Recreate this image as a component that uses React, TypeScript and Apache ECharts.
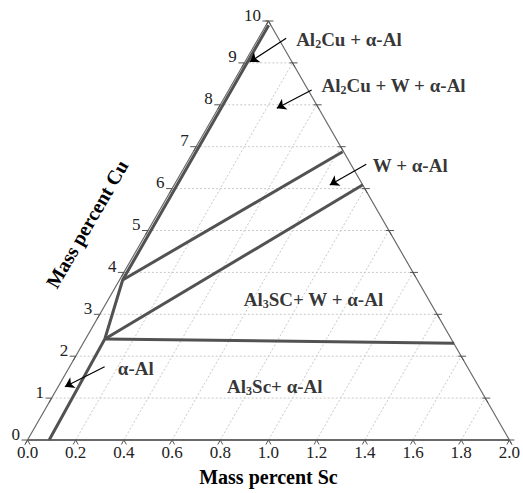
import React, { useEffect, useRef } from "react";
import * as echarts from "echarts";

// ---- axes (ternary-style frame: Sc along the base, Cu up to the apex) ----
const SC_MAX = 2;
const CU_MAX = 10;
const scTicks = [0, 0.2, 0.4, 0.6, 0.8, 1.0, 1.2, 1.4, 1.6, 1.8, 2.0];
const cuTicks = [0, 1, 2, 3, 4, 5, 6, 7, 8, 9, 10];

// ---- phase boundaries, points as [Sc, Cu] ----
const boundaryAlphaAl = [[0.09, 0], [0.08, 2.41], [0.013, 3.82], [0.011, 9.9]];
const boundaryWUpper = [[0.013, 3.82], [0.62, 6.88]];
const boundaryWLower = [[0.08, 2.41], [0.783, 6.09]];
const boundaryAl3Sc = [[0.08, 2.41], [1.54, 2.31]];

// ---- region labels: [Sc, Cu] of the left-middle anchor ----
const regionNames = ["Al2Cu + α-Al", "Al2Cu + W + α-Al", "W + α-Al", "Al3SC+ W + α-Al", "Al3Sc+ α-Al", "α-Al"];
const regionRich = [
  "{b|Al}{s|2}{b|Cu + α-Al}",
  "{b|Al}{s|2}{b|Cu + W + α-Al}",
  "{b|W + α-Al}",
  "{b|Al}{s|3}{b|SC+ W + α-Al}",
  "{b|Al}{s|3}{b|Sc+ α-Al}",
  "{b|α-Al}",
];
const regionPos = [[0.158, 9.57], [0.375, 8.45], [0.778, 6.55], [0.561, 3.365], [0.702, 1.265], [0.203, 1.718]];

// ---- arrows: from [Sc, Cu] to [Sc, Cu] ----
const arrowFrom = [[0.115, 9.587], [0.344, 8.353], [0.748, 6.58], [0.145, 1.75]];
const arrowTo = [[0.02, 9.021], [0.243, 7.916], [0.646, 6.086], [0.028, 1.272]];

// skewed projection: plot x = Sc + Cu * (SC_MAX / 2) / CU_MAX
const toXY = (p: number[]) => [p[0] + (p[1] * SC_MAX) / 2 / CU_MAX, p[1]];

const FONT = "'Liberation Serif', 'Times New Roman', serif";

export default function App() {
  const ref = useRef<HTMLDivElement>(null);
  useEffect(() => {
    if (!ref.current) return;
    const chart = echarts.init(ref.current, undefined, { renderer: "svg" });
    const half = SC_MAX / 2;
    const k = half / CU_MAX;

    const series: any[] = [];
    // grid lines: horizontal (Cu)
    cuTicks.filter((c) => c > 0 && c < CU_MAX).forEach((c) => {
      series.push({
        type: "line", silent: true, symbol: "none", clip: false, z: 1,
        data: [[k * c, c], [SC_MAX - k * c, c]],
        lineStyle: { color: "#c9c9c9", width: 1, type: [2, 2] },
      });
    });
    // grid lines: parallel to the left edge (Sc)
    scTicks.filter((s) => s > 0 && s < SC_MAX).forEach((s) => {
      const cuEnd = (SC_MAX - s) / (2 * k);
      series.push({
        type: "line", silent: true, symbol: "none", clip: false, z: 1,
        data: [[s, 0], [s + k * cuEnd, cuEnd]],
        lineStyle: { color: "#c9c9c9", width: 1, type: [2, 2] },
      });
    });
    // frame
    series.push({
      type: "line", silent: true, symbol: "none", clip: false, z: 2,
      data: [[0, 0], [half, CU_MAX], [SC_MAX, 0]],
      lineStyle: { color: "#6a6a6a", width: 1.2 },
    });
    series.push({
      type: "line", silent: true, symbol: "none", clip: false, z: 2,
      data: [[0, 0], [SC_MAX, 0]],
      lineStyle: { color: "#6a6a6a", width: 1.8 },
    });
    // phase boundaries
    [boundaryAlphaAl, boundaryWUpper, boundaryWLower, boundaryAl3Sc].forEach((b) => {
      series.push({
        type: "line", silent: true, symbol: "none", clip: false, z: 3,
        data: b.map(toXY),
        lineStyle: { color: "#525252", width: 3, join: "miter" },
      });
    });
    // arrows
    series.push({
      type: "lines", coordinateSystem: "cartesian2d", silent: true, z: 4,
      symbol: ["none", "arrow"], symbolSize: 9,
      lineStyle: { color: "#000", width: 1.2, opacity: 1 },
      data: arrowFrom.map((f, i) => ({ coords: [toXY(f), toXY(arrowTo[i])] })),
    });
    // bottom ticks
    series.push({
      type: "custom", silent: true, z: 5, clip: false,
      data: scTicks.map((s) => [s, 0]),
      renderItem: (_p: any, api: any) => {
        const p = api.coord([api.value(0), api.value(1)]);
        const st = { stroke: "#555", lineWidth: 1 };
        return {
          type: "group",
          children: [
            { type: "line", shape: { x1: p[0], y1: p[1], x2: p[0] - 2.5, y2: p[1] + 4.5 }, style: st },
            { type: "line", shape: { x1: p[0], y1: p[1], x2: p[0] + 2.5, y2: p[1] + 4.5 }, style: st },
          ],
        };
      },
    });
    // left ticks + labels
    series.push({
      type: "custom", silent: true, z: 5, clip: false,
      data: cuTicks.map((c) => [k * c, c, c]),
      renderItem: (_p: any, api: any) => {
        const p = api.coord([api.value(0), api.value(1)]);
        const st = { stroke: "#555", lineWidth: 1 };
        return {
          type: "group",
          children: [
            { type: "line", shape: { x1: p[0], y1: p[1], x2: p[0] - 6, y2: p[1] }, style: st },
            { type: "line", shape: { x1: p[0], y1: p[1], x2: p[0] - 2.5, y2: p[1] + 4.5 }, style: st },
            {
              type: "text", x: p[0] - 7.5, y: p[1] - 6,
              style: { text: String(api.value(2)), align: "right", verticalAlign: "middle", fontSize: 17, fontFamily: FONT, fill: "#222" },
            },
          ],
        };
      },
    });
    // right ticks
    series.push({
      type: "custom", silent: true, z: 5, clip: false,
      data: cuTicks.map((c) => [SC_MAX - k * c, c]),
      renderItem: (_p: any, api: any) => {
        const p = api.coord([api.value(0), api.value(1)]);
        const st = { stroke: "#555", lineWidth: 1 };
        return {
          type: "group",
          children: [
            { type: "line", shape: { x1: p[0] - 3, y1: p[1], x2: p[0] + 5, y2: p[1] }, style: st },
            { type: "line", shape: { x1: p[0], y1: p[1], x2: p[0] + 2.5, y2: p[1] + 4.5 }, style: st },
          ],
        };
      },
    });
    // region labels
    series.push({
      type: "scatter", silent: true, z: 6, clip: false, symbolSize: 0,
      data: regionPos.map((p, i) => ({
        name: regionNames[i],
        value: toXY(p),
        label: { formatter: regionRich[i] },
      })),
      label: {
        show: true, position: "right", distance: 0,
        rich: {
          b: { fontFamily: FONT, fontWeight: "bold", fontSize: 19, color: "#000", lineHeight: 20 },
          s: { fontFamily: FONT, fontWeight: "bold", fontSize: 12, color: "#000", padding: [9, 0, 0, 0] },
        },
      },
    });

    chart.setOption({
      animation: false,
      backgroundColor: "#fff",
      grid: { left: 27.5, right: 10.7, top: 21, bottom: 53, containLabel: false },
      xAxis: {
        type: "value", min: 0, max: SC_MAX, interval: 0.2,
        axisLine: { show: false }, axisTick: { show: false }, splitLine: { show: false },
        axisLabel: {
          formatter: (v: number) => v.toFixed(1), fontFamily: FONT, fontSize: 17, color: "#222", margin: 4,
        },
        name: "Mass percent Sc", nameLocation: "middle", nameGap: 27,
        nameTextStyle: { fontFamily: FONT, fontWeight: "bold", fontSize: 20, color: "#000" },
      },
      yAxis: { type: "value", min: 0, max: CU_MAX, show: false, splitLine: { show: false } },
      graphic: [
        {
          type: "text", x: 87, y: 224, rotation: Math.PI / 3,
          style: {
            text: "Mass percent Cu", fontFamily: FONT, fontWeight: "bold", fontSize: 20, fill: "#000",
            align: "center", verticalAlign: "middle",
          },
        },
      ],
      series,
    });
    return () => chart.dispose();
  }, []);
  return <div ref={ref} style={{ position: "absolute", left: 0, top: 0, width: 523, height: 493 }} />;
}
